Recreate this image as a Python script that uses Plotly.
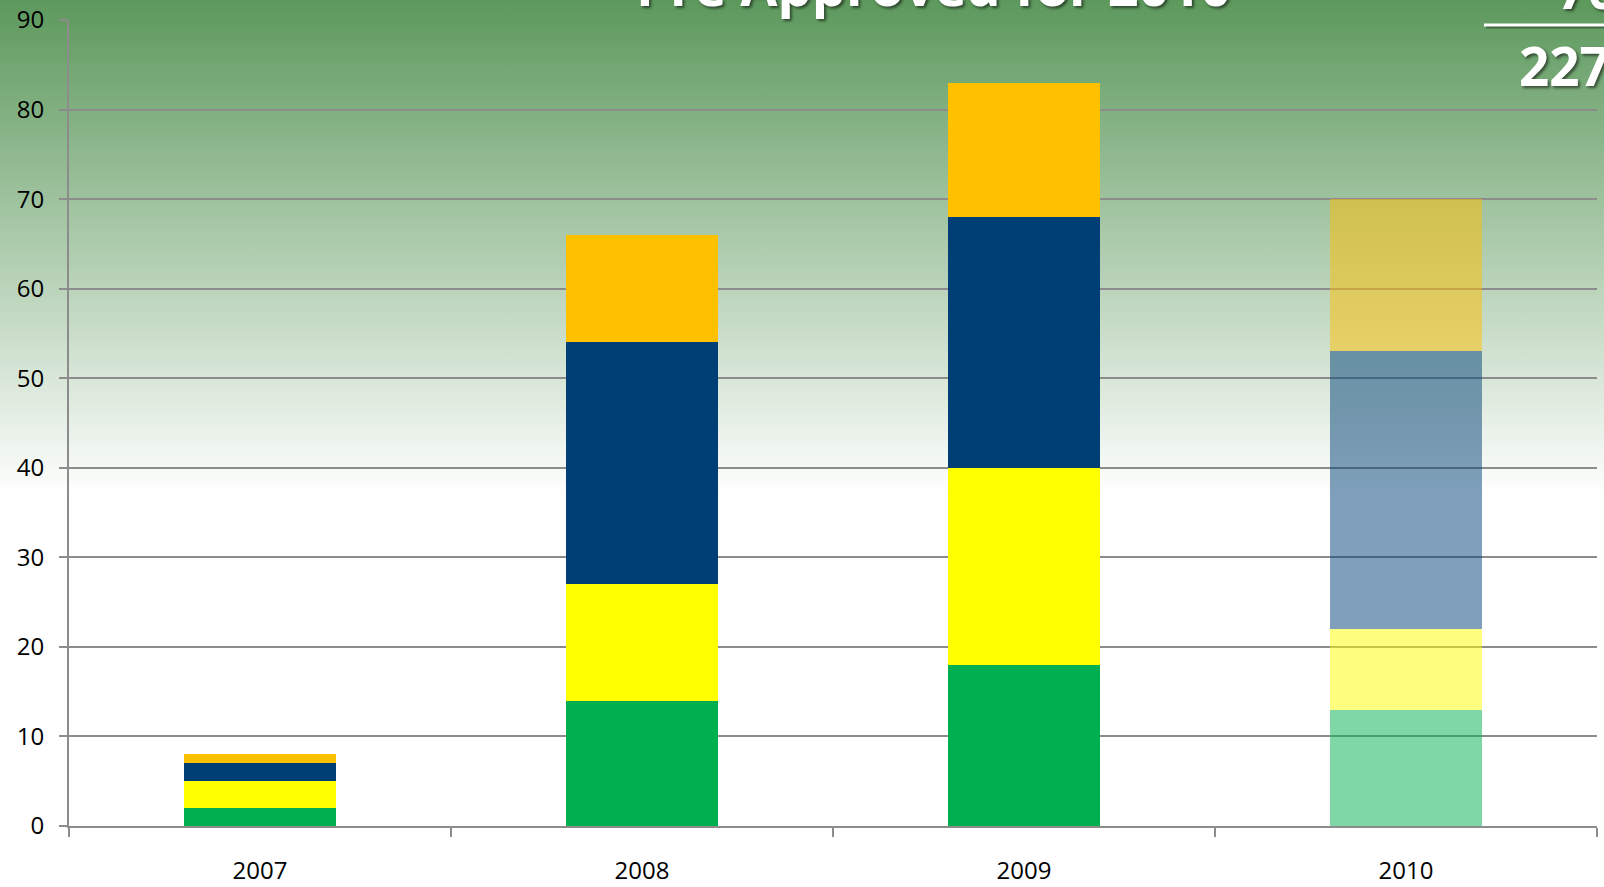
import base64
import plotly.graph_objects as go

# ---- data ----
years = ["2007", "2008", "2009", "2010"]
green_vals = [2, 14, 18, 13]
yellow_vals = [3, 13, 22, 9]
navy_vals = [2, 27, 28, 31]
orange_vals = [1, 12, 15, 17]
bar_opacity = [1, 1, 1, 0.5]   # 2010 bars are drawn translucent
y_ticks = [0, 10, 20, 30, 40, 50, 60, 70, 80, 90]
title_text = "Pre Approved for 2010"
top_right_value = "70"
total_value = "227"

# ---- layout geometry ----
W, H = 1604, 887
ML, MR, MT, MB = 69, 7, 20, 61
PW = W - ML - MR
PH = H - MT - MB

def px_x(x):
    return (x - ML) / PW

def px_y(y):
    return 1 + (MT - y) / PH

FONT = "Open Sans"

fig = go.Figure()
series = [
    ("Green", green_vals, "#00B050"),
    ("Yellow", yellow_vals, "#FFFF00"),
    ("Navy", navy_vals, "#003F76"),
    ("Orange", orange_vals, "#FFC000"),
]
for name, vals, col in series:
    fig.add_trace(go.Bar(
        x=years, y=vals, name=name,
        marker=dict(color=col, opacity=bar_opacity, line=dict(width=0)),
        width=0.4,
    ))

# gradient background as an SVG image
svg = ('<svg xmlns="http://www.w3.org/2000/svg" width="100" height="100" '
       'viewBox="0 0 100 100" preserveAspectRatio="none"><defs>'
       '<linearGradient id="g" x1="0" y1="0" x2="0" y2="1">'
       '<stop offset="0" stop-color="#5C985C"/>'
       '<stop offset="0.56" stop-color="#FFFFFF"/>'
       '<stop offset="1" stop-color="#FFFFFF"/>'
       '</linearGradient></defs>'
       '<rect x="0" y="0" width="100" height="100" fill="url(#g)"/></svg>')
src = "data:image/svg+xml;base64," + base64.b64encode(svg.encode()).decode()

fig.add_layout_image(dict(
    source=src, xref="paper", yref="paper",
    x=px_x(-2), y=px_y(-2), sizex=(W + 4) / PW, sizey=(H + 4) / PH,
    xanchor="left", yanchor="top", sizing="stretch", layer="below",
))

shadow = "2px 2px 3px rgba(0,0,0,0.55)"

fig.add_annotation(
    text=f"<b>{title_text}</b>", xref="paper", yref="paper",
    x=px_x(933), y=px_y(24), xanchor="center", yanchor="bottom",
    showarrow=False, font=dict(family=FONT, size=54, color="white", shadow=shadow),
)
fig.add_annotation(
    text=f"<b>{top_right_value}</b>", xref="paper", yref="paper",
    x=px_x(1555), y=px_y(27), xanchor="left", yanchor="bottom",
    showarrow=False, font=dict(family=FONT, size=53, color="white", shadow=shadow),
)
fig.add_annotation(
    text=f"<b>{total_value}</b>", xref="paper", yref="paper",
    x=px_x(1517), y=px_y(104), xanchor="left", yanchor="bottom",
    showarrow=False, font=dict(family=FONT, size=53, color="white", shadow=shadow),
)
# separator line under "70"
fig.add_shape(type="line", xref="paper", yref="paper",
              x0=px_x(1486), x1=px_x(1620), y0=px_y(27), y1=px_y(27),
              line=dict(color="rgba(0,0,0,0.35)", width=3), layer="above")
fig.add_shape(type="line", xref="paper", yref="paper",
              x0=px_x(1484), x1=px_x(1620), y0=px_y(25), y1=px_y(25),
              line=dict(color="white", width=3), layer="above")

grid = "#8C8C8C"
fig.update_layout(
    width=W, height=H,
    margin=dict(l=ML, r=MR, t=MT, b=MB, pad=0, autoexpand=False),
    barmode="stack",
    showlegend=False,
    paper_bgcolor="white",
    plot_bgcolor="rgba(0,0,0,0)",
    font=dict(family=FONT, color="black"),
    xaxis=dict(
        type="category", range=[-0.5, 3.5], automargin=False,
        tickson="boundaries", ticks="outside", ticklen=9, tickwidth=2, tickcolor=grid,
        showline=True, linecolor=grid, linewidth=2,
        showgrid=False, tickfont=dict(size=24, family=FONT, color="black"),
        ticklabelstandoff=22,
    ),
    yaxis=dict(
        range=[0, 90], tickvals=y_ticks, automargin=False,
        ticks="outside", ticklen=8, tickwidth=2, tickcolor=grid,
        showline=True, linecolor=grid, linewidth=2,
        showgrid=True, gridcolor=grid, gridwidth=2,
        zeroline=False,
        tickfont=dict(size=24, family=FONT, color="black"),
        ticklabelstandoff=10,
    ),
)

fig.write_html("out.html", config={"displayModeBar": False},
               post_script="document.body.style.margin='0';")
